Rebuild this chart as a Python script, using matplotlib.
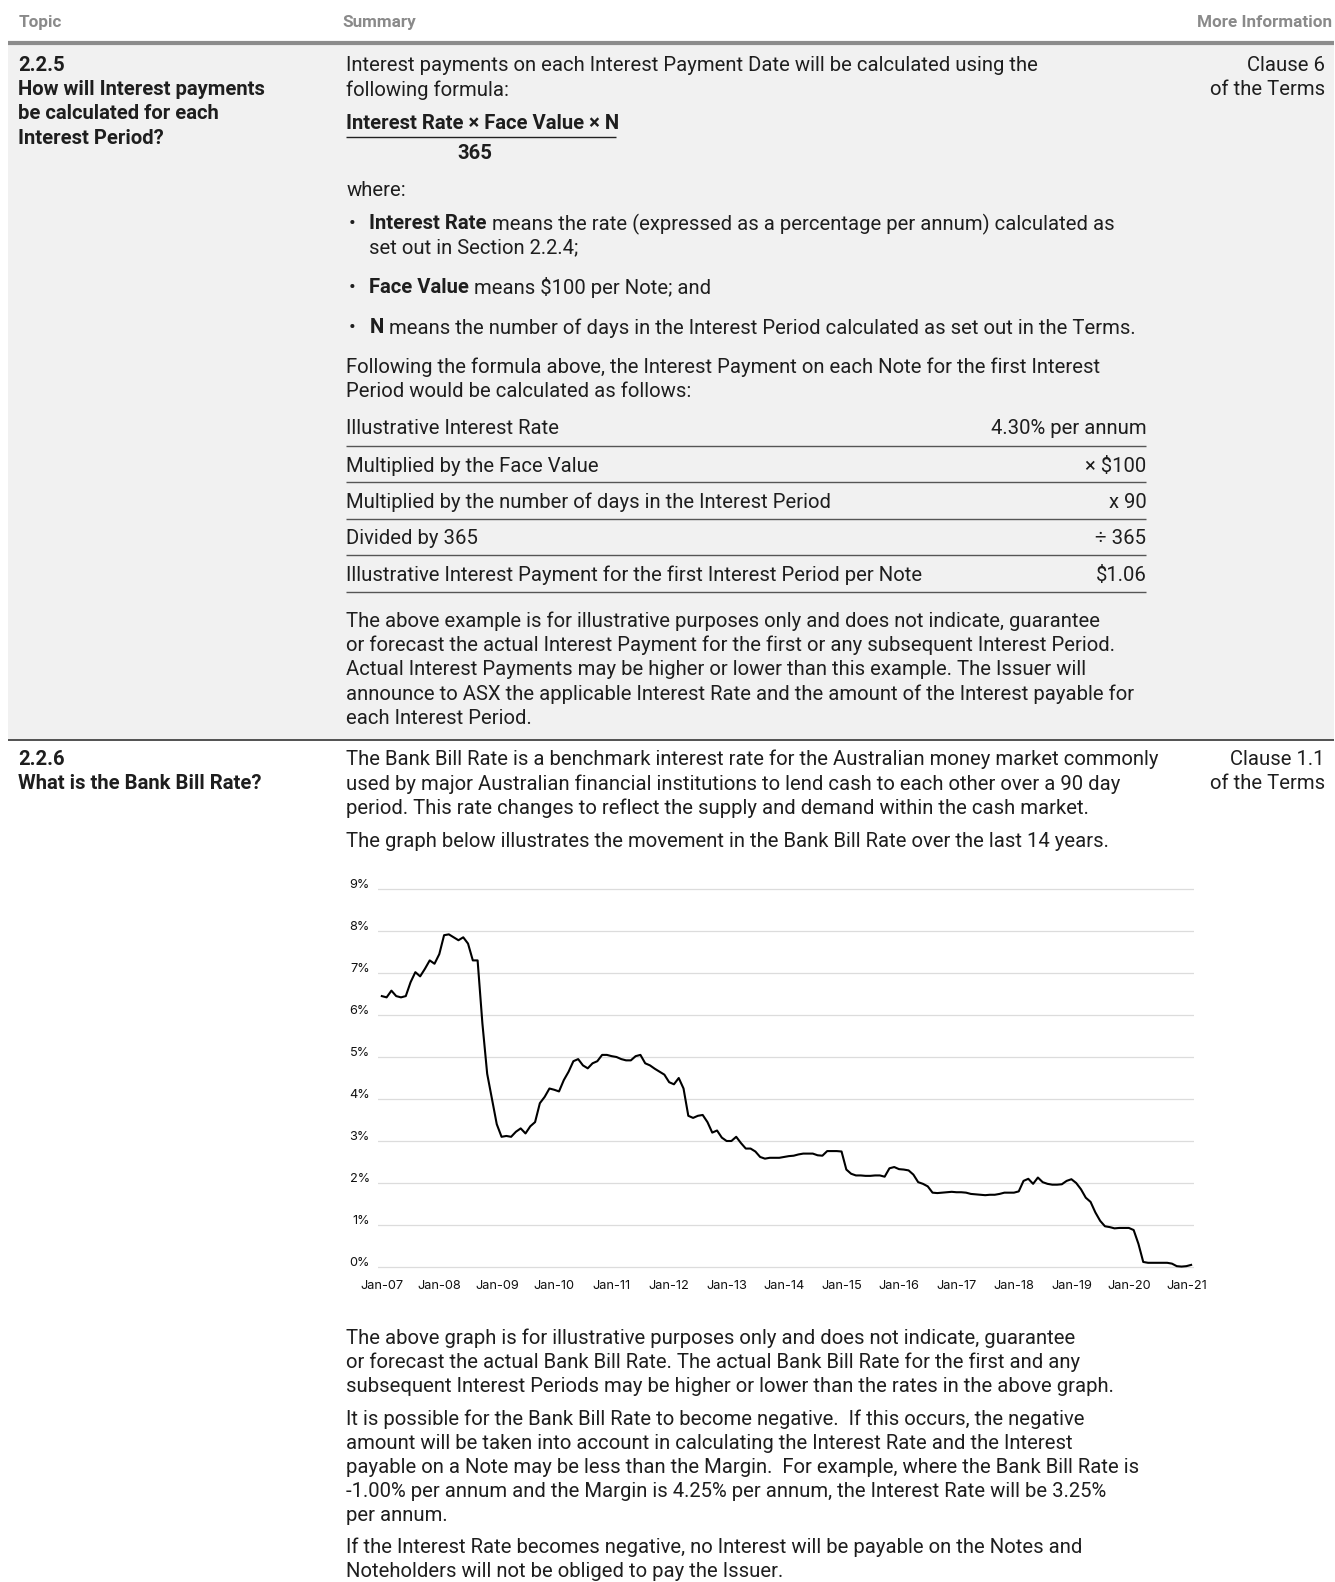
import matplotlib
matplotlib.use("Agg")
import matplotlib.pyplot as plt
from matplotlib.lines import Line2D
from matplotlib.patches import Rectangle
from matplotlib.transforms import ScaledTranslation

plt.rcParams['font.family'] = ['Roboto', 'DejaVu Sans']

# ---------------- data ----------------
rate_2007 = [6.45, 6.42, 6.58, 6.45, 6.42, 6.45, 6.78, 7.02, 6.92, 7.10, 7.30, 7.22]
rate_2008 = [7.45, 7.90, 7.92, 7.85, 7.78, 7.85, 7.70, 7.30, 7.30, 5.80, 4.60, 4.00]
rate_2009 = [3.40, 3.10, 3.12, 3.10, 3.22, 3.30, 3.18, 3.35, 3.45, 3.90, 4.05, 4.25]
rate_2010 = [4.22, 4.18, 4.45, 4.65, 4.90, 4.95, 4.80, 4.73, 4.85, 4.90, 5.05, 5.05]
rate_2011 = [5.02, 5.00, 4.95, 4.92, 4.92, 5.02, 5.05, 4.85, 4.80, 4.72, 4.65, 4.58]
rate_2012 = [4.40, 4.35, 4.50, 4.25, 3.60, 3.55, 3.60, 3.62, 3.45, 3.20, 3.25, 3.08]
rate_2013 = [3.00, 3.00, 3.10, 2.95, 2.82, 2.82, 2.75, 2.62, 2.58, 2.60, 2.60, 2.60]
rate_2014 = [2.62, 2.64, 2.65, 2.68, 2.70, 2.70, 2.70, 2.66, 2.65, 2.76, 2.76, 2.76]
rate_2015 = [2.75, 2.32, 2.22, 2.18, 2.18, 2.17, 2.17, 2.18, 2.18, 2.15, 2.35, 2.38]
rate_2016 = [2.33, 2.32, 2.30, 2.20, 2.02, 1.98, 1.92, 1.77, 1.76, 1.77, 1.78, 1.79]
rate_2017 = [1.78, 1.78, 1.77, 1.74, 1.73, 1.72, 1.71, 1.72, 1.72, 1.74, 1.77, 1.77]
rate_2018 = [1.77, 1.80, 2.05, 2.10, 1.98, 2.13, 2.02, 1.98, 1.96, 1.96, 1.97, 2.05]
rate_2019 = [2.09, 2.00, 1.85, 1.65, 1.55, 1.30, 1.10, 0.97, 0.95, 0.92, 0.93, 0.93]
rate_2020 = [0.93, 0.88, 0.55, 0.12, 0.10, 0.10, 0.10, 0.10, 0.10, 0.08, 0.02, 0.01]
rate_2021 = [0.02, 0.05]

bank_bill_rate = (rate_2007 + rate_2008 + rate_2009 + rate_2010 + rate_2011 +
                  rate_2012 + rate_2013 + rate_2014 + rate_2015 + rate_2016 +
                  rate_2017 + rate_2018 + rate_2019 + rate_2020 + rate_2021)
month_index = list(range(len(bank_bill_rate)))

x_tick_labels = ['Jan-07', 'Jan-08', 'Jan-09', 'Jan-10', 'Jan-11', 'Jan-12', 'Jan-13',
                 'Jan-14', 'Jan-15', 'Jan-16', 'Jan-17', 'Jan-18', 'Jan-19', 'Jan-20', 'Jan-21']
y_ticks = [0, 1, 2, 3, 4, 5, 6, 7, 8, 9]
y_tick_labels = ['0%', '1%', '2%', '3%', '4%', '5%', '6%', '7%', '8%', '9%']

calc_labels = ['Illustrative Interest Rate',
               'Multiplied by the Face Value',
               'Multiplied by the number of days in the Interest Period',
               'Divided by 365',
               'Illustrative Interest Payment for the first Interest Period per Note']
calc_values = ['4.30% per annum', '× $100', 'x 90', '÷ 365', '$1.06']

# ---------------- figure ----------------
W, H = 1335, 1582
SW, SH = 1323.0, 1568.0
fig = plt.figure(figsize=(W / 100, H / 100), dpi=100)
fig.patch.set_facecolor('white')

TXT = '#1e1e1e'
FS = 14.6


def fx(x):
    return x / SW


def fy(y):
    return 1 - y / SH


def T(x, y, s, size=FS, weight='normal', color=TXT, ha='left'):
    return fig.text(fx(x), fy(y), s, fontsize=size, fontweight=weight, color=color,
                    ha=ha, va='center_baseline')


def hline(x0, x1, y, color='#333333', lw=1.0):
    fig.add_artist(Line2D([fx(x0), fx(x1)], [fy(y), fy(y)], transform=fig.transFigure,
                          color=color, lw=lw, solid_capstyle='butt'))


renderer = fig.canvas.get_renderer()


def runs(x, y, parts, size=FS):
    cur = x
    for s, w in parts:
        t = T(cur, y, s, size=size, weight=w)
        bb = t.get_window_extent(renderer=renderer)
        cur += bb.width * SW / W


# background of first row
fig.add_artist(Rectangle((fx(8), fy(732)), fx(1322) - fx(8), fy(44) - fy(732),
                         transform=fig.transFigure, facecolor='#f1f1f1', edgecolor='none', zorder=0))

# header
HDR = '#8a8a8a'
T(18, 21, 'Topic', size=12.3, weight='bold', color=HDR)
T(339, 21, 'Summary', size=12.3, weight='bold', color=HDR)
T(1320, 21, 'More Information', size=12.3, weight='bold', color=HDR, ha='right')
hline(8, 1322, 42.5, color='#8c8c8c', lw=3.0)

# row 1 left
T(18, 63, '2.2.5', weight='bold')
T(18, 87, 'How will Interest payments', weight='bold')
T(18, 111, 'be calculated for each', weight='bold')
T(18, 135, 'Interest Period?', weight='bold')

# row 1 right
T(1313, 63, 'Clause 6', ha='right')
T(1313, 87, 'of the Terms', ha='right')

# row 1 summary
SX = 343
T(SX, 63, 'Interest payments on each Interest Payment Date will be calculated using the')
T(SX, 87, 'following formula:')
T(SX, 120, 'Interest Rate × Face Value × N', weight='bold')
hline(SX, 610, 136, color='#222222', lw=1.0)
T(471, 150, '365', weight='bold', ha='center')
T(SX, 187, 'where:')
BX = 366
T(345, 220, '•')
runs(BX, 220, [('Interest Rate', 'bold'),
               (' means the rate (expressed as a percentage per annum) calculated as', 'normal')])
T(BX, 244, 'set out in Section 2.2.4;')
T(345, 283, '•')
runs(BX, 283, [('Face Value', 'bold'), (' means $100 per Note; and', 'normal')])
T(345, 323, '•')
runs(BX, 323, [('N', 'bold'),
               (' means the number of days in the Interest Period calculated as set out in the Terms.', 'normal')])
T(SX, 362, 'Following the formula above, the Interest Payment on each Note for the first Interest')
T(SX, 386, 'Period would be calculated as follows:')

row_y = [423, 460, 496, 532, 568]
line_y = [442, 478, 514, 550, 587]
for lab, val, ry in zip(calc_labels, calc_values, row_y):
    T(SX, ry, lab)
    T(1136, ry, val, ha='right')
for ly in line_y:
    hline(SX, 1136, ly, color='#555555', lw=1.0)

para1 = ['The above example is for illustrative purposes only and does not indicate, guarantee',
         'or forecast the actual Interest Payment for the first or any subsequent Interest Period.',
         'Actual Interest Payments may be higher or lower than this example. The Issuer will',
         'announce to ASX the applicable Interest Rate and the amount of the Interest payable for',
         'each Interest Period.']
for i, s in enumerate(para1):
    T(SX, 614 + 24 * i, s)

# separator
hline(8, 1322, 733, color='#333333', lw=1.2)

# row 2
T(18, 751, '2.2.6', weight='bold')
T(18, 775, 'What is the Bank Bill Rate?', weight='bold')
T(1313, 751, 'Clause 1.1', ha='right')
T(1313, 775, 'of the Terms', ha='right')

para2 = ['The Bank Bill Rate is a benchmark interest rate for the Australian money market commonly',
         'used by major Australian financial institutions to lend cash to each other over a 90 day',
         'period. This rate changes to reflect the supply and demand within the cash market.']
for i, s in enumerate(para2):
    T(SX, 751 + 24 * i, s)
T(SX, 832, 'The graph below illustrates the movement in the Bank Bill Rate over the last 14 years.')

para3 = ['The above graph is for illustrative purposes only and does not indicate, guarantee',
         'or forecast the actual Bank Bill Rate. The actual Bank Bill Rate for the first and any',
         'subsequent Interest Periods may be higher or lower than the rates in the above graph.']
for i, s in enumerate(para3):
    T(SX, 1324 + 24 * i, s)

para4 = ['It is possible for the Bank Bill Rate to become negative.  If this occurs, the negative',
         'amount will be taken into account in calculating the Interest Rate and the Interest',
         'payable on a Note may be less than the Margin.  For example, where the Bank Bill Rate is',
         '-1.00% per annum and the Margin is 4.25% per annum, the Interest Rate will be 3.25%',
         'per annum.']
for i, s in enumerate(para4):
    T(SX, 1405 + 23.75 * i, s)

para5 = ['If the Interest Rate becomes negative, no Interest will be payable on the Notes and',
         'Noteholders will not be obliged to pay the Issuer.']
for i, s in enumerate(para5):
    T(SX, 1532 + 24 * i, s)

# ---------------- chart ----------------
ax_left, ax_right = 378, 1194
ax_top, ax_bot = 884.8, 1271.2
ax = fig.add_axes([ax_left / W, 1 - ax_bot / H, (ax_right - ax_left) / W, (ax_bot - ax_top) / H])
ax.set_facecolor('none')
ax.plot(month_index, bank_bill_rate, color='black', lw=1.5, solid_joinstyle='round', zorder=3)
ax.set_xlim(-0.8, 169.6)
ax.set_ylim(-0.1, 9.1)
ax.set_yticks(y_ticks)
ax.set_yticklabels(y_tick_labels)
ax.set_xticks(list(range(0, 169, 12)))
ax.set_xticklabels(x_tick_labels)
ax.grid(axis='y', color='#dcdcdc', lw=0.9)
ax.grid(axis='x', visible=False)
for sp in ax.spines.values():
    sp.set_visible(False)
ax.tick_params(axis='both', length=0, labelsize=9.2, labelcolor='#111111')
ax.tick_params(axis='y', pad=6)
ax.tick_params(axis='x', pad=6.5)
for lab in ax.get_yticklabels():
    lab.set_fontfamily(['Inter', 'DejaVu Sans'])
    lab.set_fontsize(9.2)
    lab.set_transform(lab.get_transform() + ScaledTranslation(0, 5 / 100, fig.dpi_scale_trans))
for lab in ax.get_xticklabels():
    lab.set_fontfamily(['Inter', 'DejaVu Sans'])

fig.savefig('out.png', dpi=100, facecolor='white')
